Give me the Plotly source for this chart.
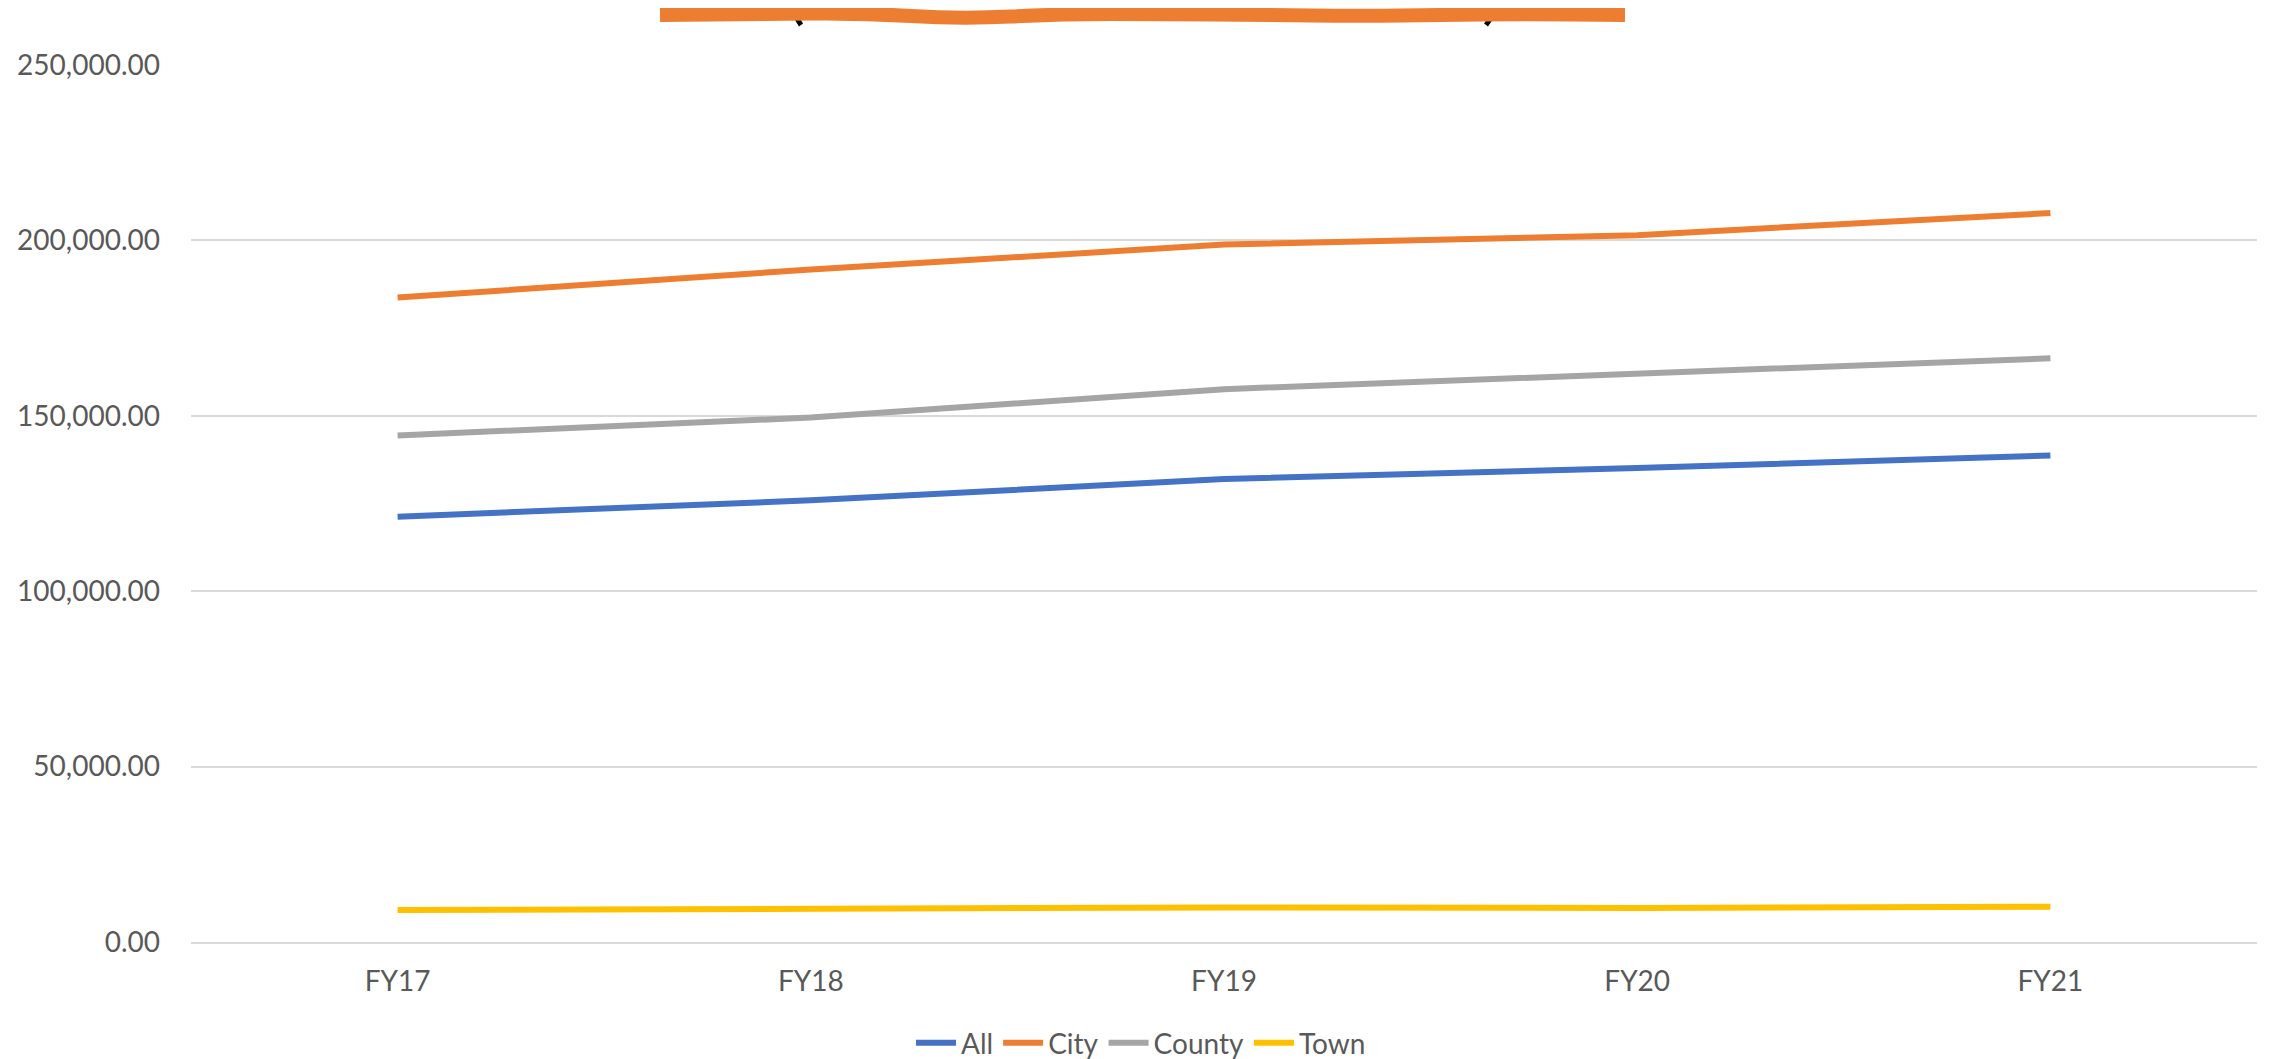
import plotly.graph_objects as go

categories = ["FY17", "FY18", "FY19", "FY20", "FY21"]
all_vals = [121250, 125900, 131970, 135100, 138700]
city_vals = [183700, 191700, 198800, 201500, 207800]
county_vals = [144400, 149500, 157600, 161900, 166400]
town_vals = [9100, 9400, 9850, 9700, 10050]

series = [
    ("All", all_vals, "#4472C4"),
    ("City", city_vals, "#ED7D31"),
    ("County", county_vals, "#A5A5A5"),
    ("Town", town_vals, "#FFC000"),
]

y_ticks = [0, 50000, 100000, 150000, 200000, 250000]

fig = go.Figure()
for name, vals, color in series:
    fig.add_trace(go.Scatter(
        x=categories, y=vals, name=name, mode="lines",
        line=dict(color=color, width=6),
    ))

font_fam = "Lato, 'Open Sans', sans-serif"

OFF = 7  # page offset of the rendered figure
L, R, T, B = 190 - OFF, 14 + OFF, 64 - OFF, 118 + OFF
W, H = 2270, 1059
pw = W - L - R
ph = H - T - B

def px(x):
    return (x - OFF - L) / pw

def py(y):
    return (H - B - (y - OFF)) / ph

# redacted title scribble (decorative)
ctrl = [(659, 14), (760, 13), (860, 12), (960, 18), (1060, 13), (1160, 13), (1260, 14), (1360, 15), (1440, 14), (1520, 13), (1624, 14)]
segs = [f"M {px(ctrl[0][0]):.5f},{py(ctrl[0][1]):.5f}"]
for i in range(1, len(ctrl) - 1):
    mx = (ctrl[i][0] + ctrl[i + 1][0]) / 2
    my = (ctrl[i][1] + ctrl[i + 1][1]) / 2
    segs.append(f"Q {px(ctrl[i][0]):.5f},{py(ctrl[i][1]):.5f} {px(mx):.5f},{py(my):.5f}")
segs.append(f"L {px(ctrl[-1][0]):.5f},{py(ctrl[-1][1]):.5f}")
path = " ".join(segs)

fig.update_layout(
    width=W, height=H,
    margin=dict(l=L, r=R, t=T, b=B, autoexpand=False),
    plot_bgcolor="white", paper_bgcolor="white",
    font=dict(family=font_fam, color="#595959", size=23),
    showlegend=True,
    legend=dict(
        orientation="h", x=px(1140), xanchor="center", y=py(1042), yanchor="middle",
        font=dict(size=28, color="#595959"), itemwidth=40, traceorder="normal",
    ),
    xaxis=dict(
        type="category", range=[-0.5, 4.5], showgrid=False, showline=True,
        linecolor="#D9D9D9", linewidth=1.5, ticks="", tickfont=dict(size=28, color="#595959"),
        ticklabelstandoff=14, fixedrange=True, automargin=False,
    ),
    yaxis=dict(
        range=[0, 250000], tickvals=y_ticks, tickformat=",.2f",
        showgrid=True, gridcolor="#D9D9D9", gridwidth=1.5, zeroline=False,
        showline=False, ticks="", tickfont=dict(size=28, color="#595959"),
        ticklabelstandoff=30, automargin=False,
    ),
    shapes=[
        dict(type="path", xref="paper", yref="paper",
             path=f"M {px(788):.5f},{py(0):.5f} Q {px(793):.5f},{py(14):.5f} {px(800):.5f},{py(24):.5f}",
             line=dict(color="black", width=5)),
        dict(type="path", xref="paper", yref="paper",
             path=f"M {px(1498):.5f},{py(0):.5f} Q {px(1493):.5f},{py(14):.5f} {px(1485):.5f},{py(24):.5f}",
             line=dict(color="black", width=5)),
        dict(type="path", xref="paper", yref="paper", path=path,
             line=dict(color="#ED7D31", width=14)),
    ],
)

fig.write_html("out.html")
